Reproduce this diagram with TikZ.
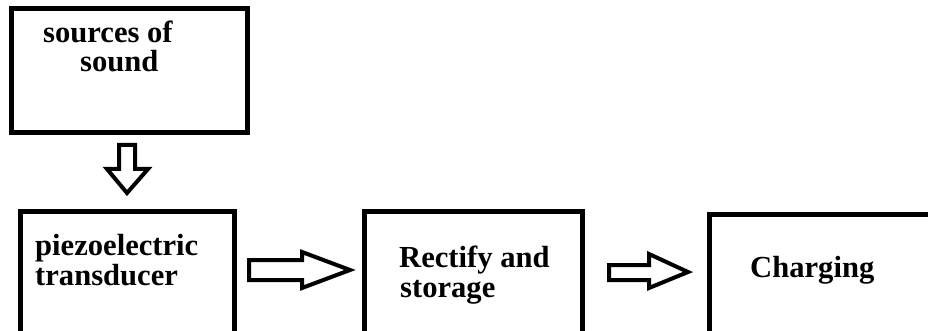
\documentclass[tikz,border=0pt]{standalone}
\usepackage{fontspec}
\setmainfont{Liberation Serif}
\begin{document}
\begin{tikzpicture}[x=1pt,y=-1pt,
  box/.style={draw=black, line width=5pt, outer sep=0pt, inner sep=0pt, anchor=north west},
  lbl/.style={inner sep=0pt, anchor=base west, font=\fontsize{30.6}{36}\selectfont\bfseries},
  blockarrow/.style={draw=black, line width=4pt, line join=miter, fill=white}]
\useasboundingbox (0,0) rectangle (928,331);
\clip (0,0) rectangle (928,331);
% boxes
\node[box, minimum width=236pt, minimum height=124pt] (src) at (11.5,8.5) {};
\node[box, minimum width=214pt, minimum height=150pt] (piezo) at (20.5,211.5) {};
\node[box, minimum width=218pt, minimum height=150pt] (rect) at (364.5,211.5) {};
\node[box, minimum width=260pt, minimum height=150pt] (chg) at (709.5,214.5) {};
% labels
\node[lbl] (t1) at (43,43) {sources of};
\node[lbl] (t2) at (80,72) {sound};
\node[lbl] (t3) at (35,255) {piezoelectric};
\node[lbl] (t4) at (35,285) {transducer};
\node[lbl] (t5) at (399,267) {Rectify and};
\node[lbl] (t6) at (400,297) {storage};
\node[lbl] (t7) at (750,277) {Charging};
% block arrows
\draw[blockarrow] (119,145) -- (135,145) -- (135,169) -- (148,169) -- (127,193) -- (107,169) -- (119,169) -- cycle;
\draw[blockarrow] (249,260) -- (302,260) -- (302,252) -- (350,270) -- (302,288) -- (302,280) -- (249,280) -- cycle;
\draw[blockarrow] (609,265) -- (649,265) -- (649,254) -- (688,272) -- (649,288) -- (649,280) -- (609,280) -- cycle;
\end{tikzpicture}
\end{document}
